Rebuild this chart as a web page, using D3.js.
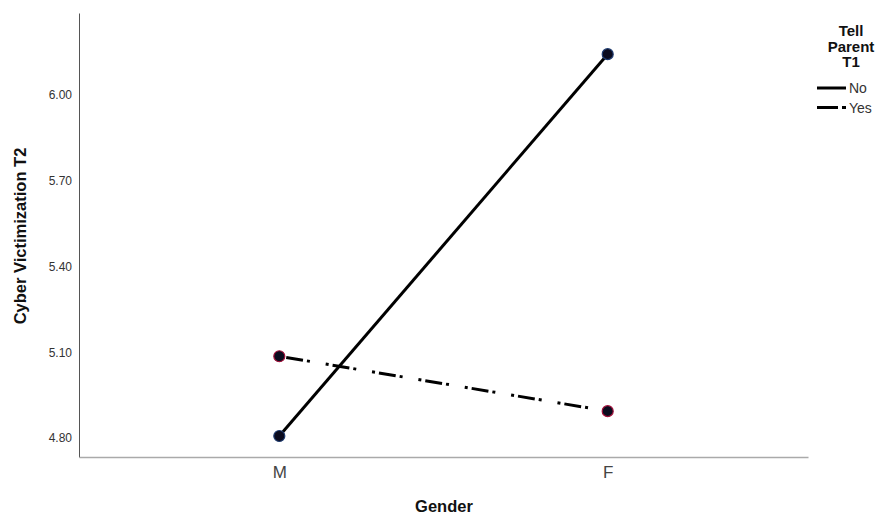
<!DOCTYPE html>
<html><head><meta charset="utf-8">
<script src="https://cdn.jsdelivr.net/npm/d3@7"></script>
<style>body{margin:0;background:#fff;}svg{display:block;font-family:Arial,"Liberation Sans",sans-serif;}</style>
</head><body><svg id="c" width="877" height="518"></svg>
<script>
const categories = ["M", "F"];
const seriesNames = ["No", "Yes"];
const valuesNo = [4.807, 6.143];
const valuesYes = [5.086, 4.894];
const yTicks = [4.80, 5.10, 5.40, 5.70, 6.00];

const svg = d3.select("#c");
const plotLeft = 79, plotRight = 808, plotTop = 13, plotBottom = 457;
const x = d3.scalePoint().domain(categories).range([plotLeft, plotRight]).padding(0.61);
const y = d3.scaleLinear().domain([4.7335, 6.287]).range([plotBottom, plotTop]);

// axes
const yAxis = d3.axisLeft(y).tickValues(yTicks).tickFormat(d3.format(".2f")).tickSize(0).tickPadding(7);
const gy = svg.append("g").attr("transform", `translate(${plotLeft},0)`).call(yAxis);
gy.select(".domain").attr("stroke", "#555").attr("stroke-width", 1);
gy.selectAll("text").attr("font-size", 12).attr("fill", "#333").attr("font-family", "Arial, 'Liberation Sans', sans-serif");

const xAxis = d3.axisBottom(x).tickSize(0).tickPadding(9);
const gx = svg.append("g").attr("transform", `translate(0,${plotBottom})`).call(xAxis);
gx.select(".domain").attr("stroke", "#aaa").attr("stroke-width", 1.5);
gx.selectAll("text").attr("font-size", 17).attr("fill", "#444").attr("font-family", "Arial, 'Liberation Sans', sans-serif");

// axis titles
svg.append("text").attr("x", 444).attr("y", 512).attr("text-anchor", "middle")
  .attr("font-size", 16.5).attr("font-weight", "bold").attr("fill", "#111").text("Gender");
svg.append("text").attr("transform", "translate(26,236) rotate(-90)").attr("text-anchor", "middle")
  .attr("font-size", 16.5).attr("font-weight", "bold").attr("fill", "#111").text("Cyber Victimization T2");

const dashYes = "3,4,17,4,3,16";
const series = [
  {name: "No", vals: valuesNo, dash: null, edge: "#1e3a6e"},
  {name: "Yes", vals: valuesYes, dash: dashYes, edge: "#a0103a"}
];
const line = d3.line().x((d, i) => x(categories[i])).y(d => y(d));
series.forEach(s => {
  svg.append("path").datum(s.vals).attr("d", line).attr("fill", "none")
    .attr("stroke", "#000").attr("stroke-width", 3)
    .attr("stroke-dasharray", s.dash);
});
series.forEach(s => {
  svg.selectAll(null).data(s.vals).enter().append("circle")
    .attr("cx", (d, i) => x(categories[i])).attr("cy", d => y(d)).attr("r", 5.5)
    .attr("fill", "#0b0b1e").attr("stroke", s.edge).attr("stroke-width", 1.2);
});

// legend
const lg = svg.append("g");
["Tell", "Parent", "T1"].forEach((t, i) => {
  lg.append("text").attr("x", 851).attr("y", 36 + i * 15.5).attr("text-anchor", "middle")
    .attr("font-size", 15).attr("font-weight", "bold").attr("fill", "#111").text(t);
});
series.forEach((s, i) => {
  const yy = 88 + i * 19.5;
  lg.append("line").attr("x1", 817).attr("x2", 846).attr("y1", yy).attr("y2", yy)
    .attr("stroke", "#000").attr("stroke-width", 3)
    .attr("stroke-dasharray", s.dash ? "21,4,4,10" : null);
  lg.append("text").attr("x", 849).attr("y", yy + 5).attr("font-size", 14).attr("fill", "#333").text(s.name);
});
</script></body></html>
